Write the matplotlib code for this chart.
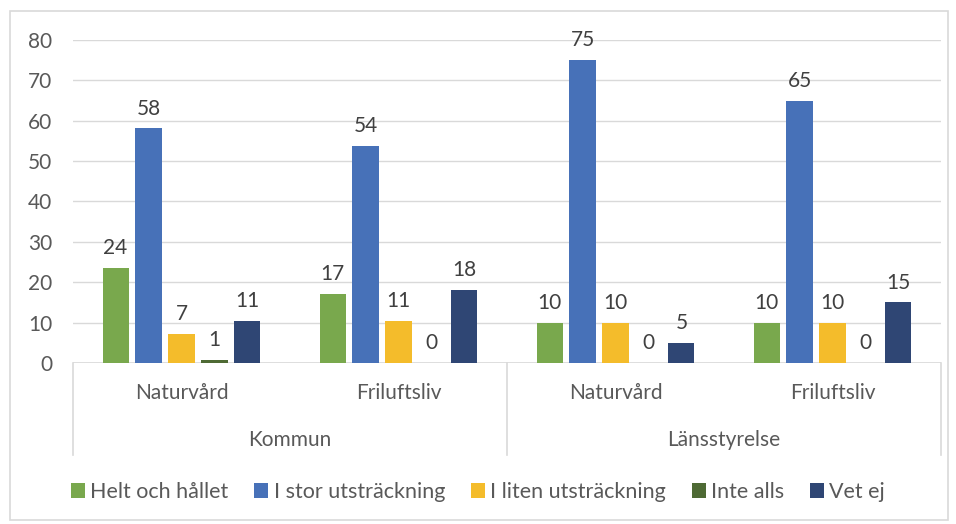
import numpy as np
import matplotlib
matplotlib.use("Agg")
import matplotlib.pyplot as plt
from matplotlib.patches import Rectangle, Patch
from matplotlib.lines import Line2D
import matplotlib.transforms as mtransforms

plt.rcParams['font.family'] = ['Lato', 'DejaVu Sans']

# --- data ---
groups = ["Kommun", "Länsstyrelse"]
subcats = ["Naturvård", "Friluftsliv", "Naturvård", "Friluftsliv"]
series = ["Helt och hållet", "I stor utsträckning", "I liten utsträckning", "Inte alls", "Vet ej"]
helt = [23.6, 17.2, 10, 10]
stor = [58.1, 53.8, 75, 65]
liten = [7.3, 10.5, 10, 10]
inte = [0.7, 0, 0, 0]
vetej = [10.5, 18.2, 5, 15]
values = [helt, stor, liten, inte, vetej]
colors = ["#79A84D", "#4771B8", "#F4BC2B", "#4E6A34", "#2F4674"]

FS = 15
W, H = 956, 524
fig = plt.figure(figsize=(W / 100, H / 100), dpi=100)
ax = fig.add_axes([73 / W, 1 - 363 / H, (941 - 73) / W, (363 - 40) / H])

x = np.arange(len(subcats))
pitch, width = 0.152, 0.12
for i, (vals, col) in enumerate(zip(values, colors)):
    pos = x + (i - 2) * pitch
    ax.bar(pos, vals, width=width, color=col, zorder=3)
    for px, v in zip(pos, vals):
        ax.annotate(str(int(v + 0.5)), (px, v), xytext=(0, 7), textcoords="offset points",
                    ha="center", va="bottom", fontsize=FS, color="#404040")

ax.set_xlim(-0.5, len(subcats) - 0.5)
ax.set_ylim(0, 80)
ax.set_yticks(range(0, 81, 10))
ax.grid(axis="y", color="#d9d9d9", lw=1, zorder=0)
ax.axhline(0, color="#d9d9d9", lw=1.2, zorder=2)
for s in ax.spines.values():
    s.set_visible(False)
ax.tick_params(axis="y", length=0, labelsize=FS, labelcolor="#595959", pad=15)
ax.set_xticks([])

# multi-level category axis
trans = mtransforms.blended_transform_factory(ax.transData, ax.transAxes)
yb = -(455 - 363) / (363 - 40)
for xv in [-0.5, 1.5, 3.5]:
    ax.add_line(Line2D([xv, xv], [0, yb], transform=trans, color="#d9d9d9", lw=1.2, clip_on=False))
for xv, lab in zip(x, subcats):
    ax.text(xv, -(393 - 363) / 323, lab, transform=trans, ha="center", va="center",
            fontsize=FS, color="#595959")
for gi, g in enumerate(groups):
    ax.text(gi * 2 + 0.5, -(440 - 363) / 323, g, transform=trans, ha="center", va="center",
            fontsize=FS, color="#595959")

handles = [Patch(facecolor=c, label=s) for c, s in zip(colors, series)]
fig.legend(handles=handles, loc="center", bbox_to_anchor=(0.5, 1 - 492 / H), ncol=5,
           frameon=False, fontsize=FS + 0.5, handlelength=0.65, handleheight=0.65,
           handletextpad=0.25, columnspacing=1.2, labelcolor="#595959")

fig.patches.append(Rectangle((10 / W, 1 - 520 / H), 938 / W, 509 / H, transform=fig.transFigure,
                             fill=False, edgecolor="#d9d9d9", lw=1.2))

fig.savefig("out.png", dpi=100)
